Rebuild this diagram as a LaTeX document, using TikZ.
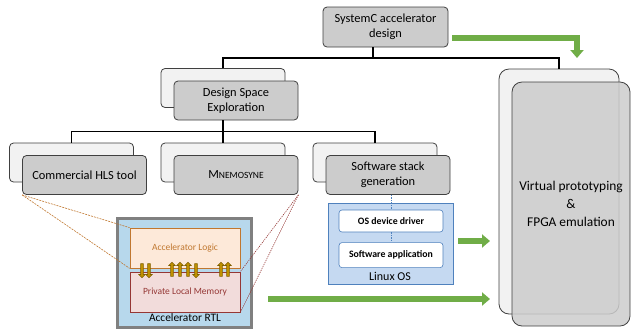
\documentclass[tikz,border=0pt]{standalone}
\usepackage{fontspec}
\setmainfont{Carlito}
\usepackage{tikz}
\usetikzlibrary{positioning,arrows.meta,shapes.arrows}
\usepackage{xcolor}
\definecolor{boxgray}{HTML}{CCCCCC}
\definecolor{backgray}{HTML}{F2F2F2}
\definecolor{edgegray}{HTML}{404040}
\definecolor{rtlblue}{HTML}{B7D8EC}
\definecolor{rtledge}{HTML}{808080}
\definecolor{osblue}{HTML}{C5D9F1}
\definecolor{osedge}{HTML}{4F81BD}
\definecolor{logicfill}{HTML}{FDE9D9}
\definecolor{logicedge}{HTML}{C0772F}
\definecolor{memfill}{HTML}{F2DCDB}
\definecolor{memedge}{HTML}{953735}
\definecolor{flowgreen}{HTML}{70AD47}
\definecolor{busgold}{HTML}{BF9000}
\definecolor{busedge}{HTML}{7F6000}

\begin{document}
\begin{tikzpicture}[
    x=1pt, y=-1pt,
    backbox/.style={draw=edgegray, fill=backgray, line width=0.8pt, rounded corners=4pt, minimum width=124pt, minimum height=39pt},
    frontbox/.style={backbox, fill=boxgray, align=center, font=\fontsize{12.4}{14.5}\selectfont},
    bigback/.style={backbox, rounded corners=10pt, minimum width=120pt, minimum height=245pt},
    bigfront/.style={bigback, fill=boxgray, fill opacity=0.85, text opacity=1, minimum width=118pt, minimum height=244pt, align=center, font=\fontsize{13.4}{18}\selectfont},
    rtlbox/.style={draw=rtledge, fill=rtlblue, line width=3pt, minimum width=134pt, minimum height=109pt},
    logicbox/.style={draw=logicedge, fill=logicfill, text=logicedge, line width=0.7pt, minimum width=110pt, minimum height=40pt, font=\fontsize{9.5}{11}\selectfont},
    memorybox/.style={logicbox, draw=memedge, fill=memfill, text=memedge},
    osbox/.style={draw=osedge, fill=osblue, line width=0.8pt, minimum width=125pt, minimum height=81pt},
    ositem/.style={draw=osedge, fill=white, line width=0.6pt, rounded corners=3pt, minimum width=104pt, minimum height=22pt, font=\fontsize{9.8}{11}\selectfont\bfseries},
    busarrow/.style={single arrow, draw=busedge, fill=busgold, line width=0.6pt, inner sep=1.1pt, minimum height=14pt, single arrow head extend=1.8pt, single arrow head indent=0pt},
    tree/.style={line width=1.3pt},
    flow/.style={draw=flowgreen, line width=6pt, -{Triangle[width=13pt,length=8pt]}},
    hlsline/.style={draw=logicedge, line width=0.6pt, dash pattern=on 2pt off 1pt},
    mnemline/.style={draw=memedge, line width=0.6pt, dash pattern=on 1.2pt off 1pt},
    osline/.style={draw=osedge, line width=0.6pt, dash pattern=on 1.5pt off 1pt}
]
\useasboundingbox (0,0) rectangle (631,333);

% top level
\node[frontbox, minimum width=125pt, minimum height=40pt] (sysc) at (385.5,27) {SystemC accelerator\\design};

\node[backbox] (dseback) at (223,88) {};
\node[frontbox] (dse) at ([shift={(13,12.5)}]dseback) {Design Space\\Exploration};

\node[bigback] (vpback) at (559,191.5) {};
\node[bigfront] (vp) at ([shift={(12,12.5)}]vpback) {Virtual prototyping\\\&\\FPGA emulation};

% second level
\node[backbox] (hlsback) at (71.5,162.5) {};
\node[frontbox] (hls) at ([shift={(13,12.5)}]hlsback) {Commercial HLS tool};
\node[backbox] (mnemback) at (223,162.5) {};
\node[frontbox] (mnem) at ([shift={(13,12.5)}]mnemback) {M{\fontsize{9.5}{11}\selectfont NEMOSYNE}};
\node[backbox] (swback) at (375,162.5) {};
\node[frontbox] (sw) at ([shift={(13,12.5)}]swback) {Software stack\\generation};

% tree
\coordinate (bus1) at (373,58);
\draw[tree] ([xshift=-12.5pt]sysc.south) -- (bus1);
\draw[tree] (dseback.north) |- (bus1) -| (vpback.north);
\draw[tree] (dseback |- dse.south) -- (mnemback.north);
\draw[tree] (hlsback.north) -- ++(0,-11) -| (swback.north);

% accelerator RTL
\node[rtlbox] (rtl) at (184.5,273) {};
\node[logicbox] (logic) at (185,248) {Accelerator Logic};
\node[memorybox] (plm) at (185,292) {Private Local Memory};
\node[font=\fontsize{11.4}{13}\selectfont, inner sep=0pt] (rtllabel) at (185,318) {Accelerator RTL};
\foreach \x/\dir [count=\i] in {142/-90,149/-90,172/90,180/90,188/90,196/-90,221/90,228/90}
  \node[busarrow, rotate=\dir] (bus\i) at (\x,270) {};

\draw[hlsline] (hls.south west) -- (logic.north west);
\draw[hlsline] (hls.south west) -- (logic.south west);
\draw[mnemline] (mnem.south east) -- (plm.north east);
\draw[mnemline] (mnem.south east) -- (plm.south east);

% linux
\node[osbox] (linux) at (390.5,243.5) {};
\node[ositem] (driver) at (391,221) {OS device driver};
\node[ositem, minimum height=25pt, below=10pt of driver] (app) {Software application};
\node[font=\fontsize{12}{14}\selectfont, inner sep=0pt] (linuxlabel) at (390,276.5) {Linux OS};
\draw[osline] (driver.north |- sw.south) -- (driver.north);
\draw[osline] (driver.south) -- (app.north);

% flows
\coordinate (vpin0) at (577,58);
\coordinate (vpin1) at (490,241);
\coordinate (vpin2) at (490,299);
\draw[flow] ([xshift=4pt,yshift=-11pt]sysc.east) -| (vpin0);
\draw[flow] ([xshift=5pt,yshift=2.5pt]linux.east) -- (vpin1);
\draw[flow] ([xshift=15pt,yshift=-26pt]rtl.east) -- (vpin2);

\end{tikzpicture}
\end{document}
